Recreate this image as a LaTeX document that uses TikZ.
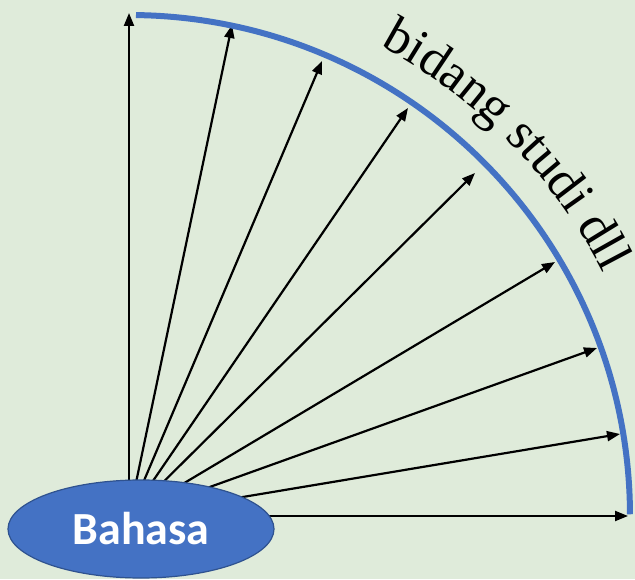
\documentclass[tikz,border=0pt]{standalone}
\usepackage{fontspec}
\setmainfont{Liberation Serif}
\newfontfamily\labelfont{Carlito}
\usetikzlibrary{arrows.meta,decorations.text,shapes.geometric}
\definecolor{bg}{HTML}{DFEBDA}
\definecolor{arcblue}{HTML}{4472C4}
\definecolor{edgeblue}{HTML}{2F528F}
\begin{document}
\begin{tikzpicture}[x=1pt,y=1pt,
  ray/.style={line width=2.2pt,-{Triangle[length=13pt,width=10pt]}},
  arcline/.style={line width=6pt,arcblue},
  bubble/.style={ellipse,fill=arcblue,draw=edgeblue,line width=1.2pt,
    minimum width=266pt,minimum height=98pt,inner sep=0pt,
    text=white,font=\labelfont\bfseries\fontsize{46}{46}\selectfont}]
\fill[bg] (0,0) rectangle (635,579);
\useasboundingbox (0,0) rectangle (635,579);
\coordinate (c) at (129,63);
\coordinate (t1) at (129,566);
\coordinate (t2) at (232,554);
\coordinate (t3) at (322,518);
\coordinate (t4) at (408,471);
\coordinate (t5) at (475,406);
\coordinate (t6) at (555,317);
\coordinate (t7) at (597,231);
\coordinate (t8) at (620,145);
\coordinate (t9) at (628,63);
\foreach \i in {1,...,9} \draw[ray] (c) -- (t\i);
\draw[arcline] ([shift={(89.2:501)}]c) arc[start angle=89.2,end angle=0.2,radius=501];
\path[decorate,decoration={text along path,text align=center,
  text={|\fontsize{52}{52}\selectfont|bidang studi dll}}]
  ([shift={(67:533)}]c) arc[start angle=67,end angle=22,radius=533];
\node[bubble] (bahasa) at (141,50) {Bahasa};
\end{tikzpicture}
\end{document}
